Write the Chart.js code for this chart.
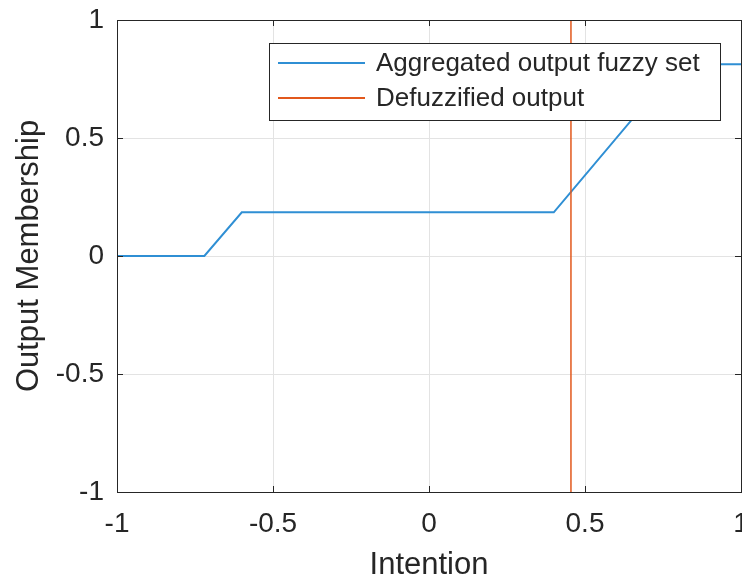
<!DOCTYPE html>
<html>
<head>
<meta charset="utf-8">
<script src="https://cdn.jsdelivr.net/npm/chart.js@4/dist/chart.umd.min.js"></script>
<style>
    html, body { margin: 0; padding: 0; overflow: hidden; background: #fff; }
    #wrap { width: 742px; height: 579px; }
</style>
</head>
<body>
<div id="wrap"><canvas id="fuzzyChart" width="742" height="579"></canvas></div>
<script>
// dati
const intention = [-1, -0.72, -0.6, 0.4, 0.8, 1];
const membership = [0, 0, 0.185, 0.185, 0.813, 0.813];
const defuzzX = [0.455, 0.455];
const defuzzY = [-1, 1];
const xTicks = [-1, -0.5, 0, 0.5, 1];
const yTicks = [-1, -0.5, 0, 0.5, 1];
const seriesLabels = ["Aggregated output fuzzy set", "Defuzzified output"];

const FONT = "'Liberation Sans', Arial, Helvetica, sans-serif";
const AXIS = "#262626";

// box attorno all'area, tacche interne e legenda
const matlabBox = {
    id: "matlabBox",
    afterDatasetsDraw(chart) {
        const ctx = chart.ctx;
        const ca = chart.chartArea;
        const xs = chart.scales.x, ys = chart.scales.y;
        ctx.save();
        ctx.strokeStyle = AXIS;
        ctx.lineWidth = 1;
        ctx.beginPath();
        xTicks.forEach(v => {
            let px = Math.round(xs.getPixelForValue(v)) + 0.5;
            ctx.moveTo(px, ca.bottom); ctx.lineTo(px, ca.bottom - 6);
            ctx.moveTo(px, ca.top); ctx.lineTo(px, ca.top + 6);
        });
        yTicks.forEach(v => {
            let py = Math.round(ys.getPixelForValue(v)) + 0.5;
            ctx.moveTo(ca.left, py); ctx.lineTo(ca.left + 6, py);
            ctx.moveTo(ca.right, py); ctx.lineTo(ca.right - 6, py);
        });
        ctx.stroke();
        ctx.strokeRect(Math.round(ca.left) + 0.5, Math.round(ca.top) + 0.5,
            Math.round(ca.right - ca.left), Math.round(ca.bottom - ca.top));

        // legenda
        let lx = Math.round(ca.left) + 152, ly = Math.round(ca.top) + 23;
        let lw = 451, lh = 77;
        ctx.fillStyle = "#fff";
        ctx.fillRect(lx, ly, lw, lh);
        ctx.strokeRect(lx + 0.5, ly + 0.5, lw, lh);
        ctx.font = "26px " + FONT;
        ctx.textBaseline = "middle";
        chart.data.datasets.forEach((ds, i) => {
            let ry = ly + 20 + i * 35;
            ctx.strokeStyle = ds.borderColor;
            ctx.lineWidth = 2;
            ctx.beginPath();
            ctx.moveTo(lx + 9, ry); ctx.lineTo(lx + 96, ry);
            ctx.stroke();
            ctx.fillStyle = AXIS;
            ctx.fillText(ds.label, lx + 107, ry + 1);
        });
        ctx.restore();
    }
};

let ctx = document.getElementById("fuzzyChart").getContext("2d");

let fuzzyChart = new Chart(ctx, {
    type: "scatter",
    data: {
        datasets: [{
            label: seriesLabels[0],
            data: intention.map((x, i) => ({ x: x, y: membership[i] })),
            showLine: true,
            borderColor: "#2f8fd4",
            borderWidth: 2,
            pointRadius: 0,
            order: 1
        }, {
            label: seriesLabels[1],
            data: defuzzX.map((x, i) => ({ x: x, y: defuzzY[i] })),
            showLine: true,
            borderColor: "#e2581c",
            borderWidth: 1.5,
            pointRadius: 0,
            order: 0
        }]
    },
    options: {
        responsive: false,
        animation: false,
        devicePixelRatio: 1,
        layout: { padding: { top: 0, left: 0, right: 1, bottom: 0 } },
        plugins: { legend: { display: false }, tooltip: { enabled: false } },
        scales: {
            x: {
                type: "linear",
                min: -1, max: 1,
                afterBuildTicks: s => { s.ticks = xTicks.map(v => ({ value: v })); },
                afterFit: s => { s.height = 87; s.paddingLeft = 0; s.paddingRight = 0; },
                ticks: {
                    callback: v => String(v),
                    color: AXIS,
                    padding: 15,
                    maxRotation: 0,
                    font: { family: FONT, size: 28 }
                },
                grid: { color: "#e3e3e3", drawTicks: false },
                border: { color: AXIS },
                title: {
                    display: true,
                    text: "Intention",
                    color: AXIS,
                    padding: { top: 0, bottom: 0 },
                    font: { family: FONT, size: 31, lineHeight: 0.9 }
                }
            },
            y: {
                type: "linear",
                min: -1, max: 1,
                afterBuildTicks: s => { s.ticks = yTicks.map(v => ({ value: v })); },
                afterFit: s => { s.width = 117; s.paddingTop = 20; s.paddingBottom = 0; },
                ticks: {
                    callback: v => String(v),
                    color: AXIS,
                    padding: 13,
                    font: { family: FONT, size: 28 }
                },
                grid: { color: "#e3e3e3", drawTicks: false },
                border: { color: AXIS },
                title: {
                    display: true,
                    text: "Output Membership",
                    color: AXIS,
                    padding: { top: 14, bottom: 0 },
                    font: { family: FONT, size: 31, lineHeight: 1 }
                }
            }
        }
    },
    plugins: [matlabBox]
});
</script>
</body>
</html>
